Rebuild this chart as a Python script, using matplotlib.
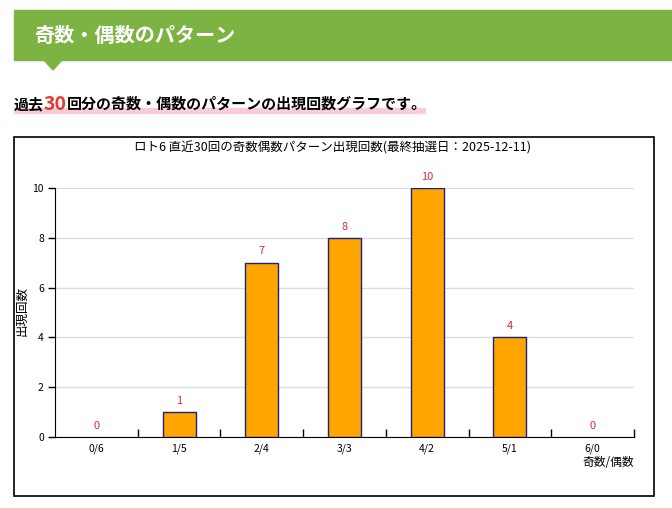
import matplotlib
matplotlib.use("Agg")
import matplotlib.pyplot as plt
from matplotlib.patches import Rectangle, Polygon

plt.rcParams['font.family'] = ['Noto Sans CJK JP', 'DejaVu Sans']

# data
patterns = ['0/6', '1/5', '2/4', '3/3', '4/2', '5/1', '6/0']
counts = [0, 1, 7, 8, 10, 4, 0]
yticks = [0, 2, 4, 6, 8, 10]

W, H = 672, 508
fig = plt.figure(figsize=(W / 100, H / 100), dpi=100)


def fx(px):
    return px / W


def fy(py):
    return 1 - py / H


# green header banner with small pointer
fig.patches.append(Rectangle((fx(14), fy(60)), fx(672) - fx(14), fy(10) - fy(60),
                             transform=fig.transFigure, color='#7cb342', zorder=0))
fig.patches.append(Polygon([(fx(44), fy(60)), (fx(62), fy(60)), (fx(53), fy(70))],
                           closed=True, transform=fig.transFigure, color='#7cb342', zorder=0))
fig.text(fx(34), fy(35), '奇数・偶数のパターン', color='white', fontsize=14.5,
         fontweight='bold', va='center', ha='left')

# subtitle with pink underline
fig.patches.append(Rectangle((fx(14), fy(113)), fx(425) - fx(14), fy(108) - fy(113),
                             transform=fig.transFigure, color='#f9cdd6', zorder=0))
renderer = fig.canvas.get_renderer()
x = fx(14)
for txt, col, size in [('過去', 'black', 10.8), ('30', '#e53935', 14),
                       ('回分の奇数・偶数のパターンの出現回数グラフです。', 'black', 10.8)]:
    t = fig.text(x, fy(104), txt, color=col, fontsize=size, fontweight='bold',
                 va='center', ha='left')
    bb = t.get_window_extent(renderer)
    x += bb.width / W

# chart frame
fig.patches.append(Rectangle((fx(14), fy(496)), fx(654) - fx(14), fy(137) - fy(496),
                             transform=fig.transFigure, fill=False, edgecolor='black',
                             linewidth=1.2, zorder=1))

ax = fig.add_axes([fx(55), fy(437), fx(634) - fx(55), fy(188) - fy(437)])
pos = list(range(len(patterns)))
widths = [1 if c > 0 else 0 for c in counts]
ax.bar(pos, counts, width=0.4, color='#ffa500', edgecolor='#1a237e', linewidth=widths, zorder=3)
for p, c in zip(pos, counts):
    ax.text(p, c + 0.25, str(c), ha='center', va='bottom', color='#d32f2f', fontsize=8,
            clip_on=False)

ax.set_xlim(-0.5, len(patterns) - 0.5)
ax.set_ylim(0, 10)
ax.set_yticks(yticks)
ax.set_yticklabels([str(v) for v in yticks], fontsize=7.5)
ax.set_xticks(pos)
ax.set_xticklabels(patterns, fontsize=7.5)
ax.set_xticks([i + 0.5 for i in pos], minor=True)
ax.tick_params(axis='x', which='major', length=0, pad=5)
ax.tick_params(axis='x', which='minor', direction='in', length=6, width=1)
ax.tick_params(axis='y', direction='out', length=5, width=1, pad=3)
ax.grid(axis='y', color='#dddddd', linewidth=1, zorder=0)
for s in ['top', 'right']:
    ax.spines[s].set_visible(False)

fig.text(fx(333), fy(148), 'ロト6 直近30回の奇数偶数パターン出現回数(最終抽選日：2025-12-11)',
         fontsize=9, ha='center', va='center')
fig.text(fx(22), fy(311), '出現回数', rotation=90, fontsize=9, ha='center', va='center')
fig.text(fx(634), fy(462), '奇数/偶数', fontsize=8.5, ha='right', va='center')

fig.savefig('out.png', dpi=100)
